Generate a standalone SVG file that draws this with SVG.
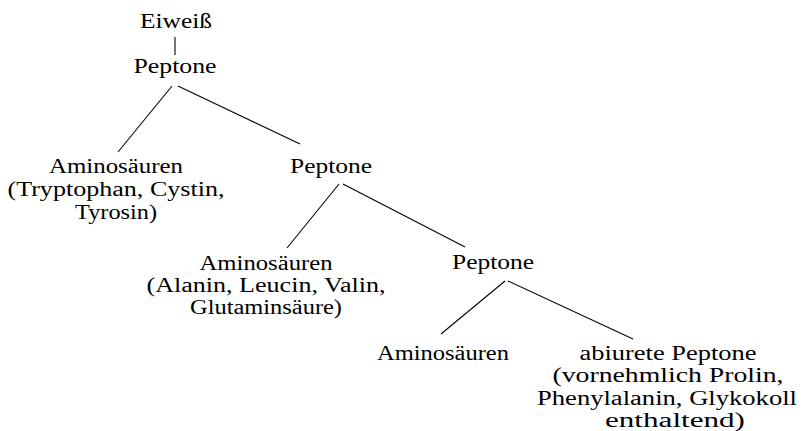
<svg xmlns="http://www.w3.org/2000/svg" width="802" height="431" viewBox="0 0 802 431">
<style>
text{font-family:"Liberation Serif","DejaVu Serif",serif;font-size:20px;fill:#000;text-anchor:middle}
.c line{stroke:#000;stroke-width:1.1}
</style>
<rect width="802" height="431" fill="#fff"/>
<g class="c" id="connectors">
<line x1="175" y1="37" x2="175" y2="55"/>
<line x1="172" y1="86" x2="118" y2="152"/>
<line x1="178" y1="86" x2="300" y2="144"/>
<line x1="339" y1="184" x2="287" y2="248"/>
<line x1="343" y1="184" x2="465" y2="247"/>
<line x1="505" y1="281" x2="441" y2="334"/>
<line x1="508" y1="281" x2="633" y2="339"/>
</g>
<g id="eiweiss"><text x="176" y="28" textLength="72" lengthAdjust="spacingAndGlyphs">Eiweiß</text></g>
<g id="peptone1"><text x="175" y="73" textLength="83" lengthAdjust="spacingAndGlyphs">Peptone</text></g>
<g id="amino1">
<text x="116" y="173" textLength="134" lengthAdjust="spacingAndGlyphs">Aminosäuren</text>
<text x="116" y="196" textLength="217" lengthAdjust="spacingAndGlyphs">(Tryptophan, Cystin,</text>
<text x="116" y="219" textLength="82" lengthAdjust="spacingAndGlyphs">Tyrosin)</text>
</g>
<g id="peptone2"><text x="331" y="173" textLength="82" lengthAdjust="spacingAndGlyphs">Peptone</text></g>
<g id="amino2">
<text x="266" y="270" textLength="133" lengthAdjust="spacingAndGlyphs">Aminosäuren</text>
<text x="266" y="292" textLength="239" lengthAdjust="spacingAndGlyphs">(Alanin, Leucin, Valin,</text>
<text x="266" y="314" textLength="152" lengthAdjust="spacingAndGlyphs">Glutaminsäure)</text>
</g>
<g id="peptone3"><text x="493" y="269" textLength="82" lengthAdjust="spacingAndGlyphs">Peptone</text></g>
<g id="amino3"><text x="443" y="360" textLength="132" lengthAdjust="spacingAndGlyphs">Aminosäuren</text></g>
<g id="abiurete">
<text x="668" y="360" textLength="177" lengthAdjust="spacingAndGlyphs">abiurete Peptone</text>
<text x="668" y="382" textLength="231" lengthAdjust="spacingAndGlyphs">(vornehmlich Prolin,</text>
<text x="667" y="405" textLength="260" lengthAdjust="spacingAndGlyphs">Phenylalanin, Glykokoll</text>
<text x="675" y="427" textLength="140" lengthAdjust="spacingAndGlyphs">enthaltend)</text>
</g>
</svg>
